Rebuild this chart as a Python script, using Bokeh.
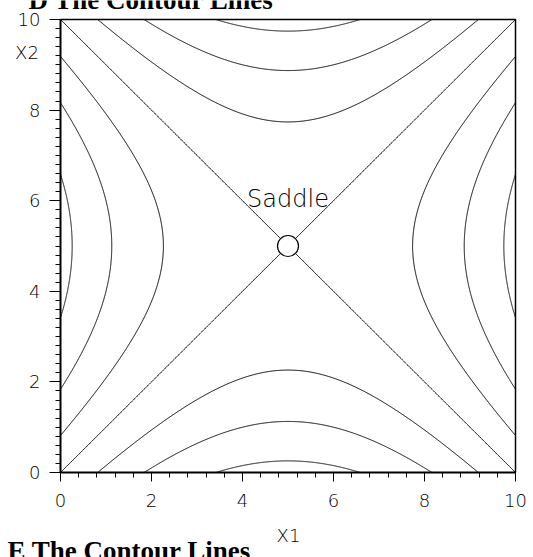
import numpy as np
from bokeh.plotting import figure
from bokeh.models import Range1d, SingleIntervalTicker, Label
from bokeh.embed import file_html
from bokeh.resources import INLINE

# ---- data ----
contour_levels = [-22.5, -15.0, -7.5, 0.0, 7.5, 15.0, 22.5]   # f = (X1-5)^2 - (X2-5)^2
saddle_x = [5.0]
saddle_y = [5.0]
x_limits = [0, 10]
y_limits = [0, 10]
tick_interval = 2

# ---- contour lines of the saddle, cut to the plotted square ----
cx, cy = saddle_x[0], saddle_y[0]
hw = (x_limits[1] - x_limits[0]) / 2.0
xs, ys = [], []
for c in contour_levels:
    half = np.sqrt(hw ** 2 - abs(c))
    t = np.linspace(-half, half, 601)
    r = np.sqrt(abs(c) + t ** 2)
    if c >= 0:
        xs += [cx - r, cx + r]
        ys += [cy + t, cy + t]
    else:
        xs += [cx + t, cx + t]
        ys += [cy - r, cy + r]

# ---- layout: the frame fills the whole canvas; axes sit at the data origin ----
W, H = 533, 557
PX_L, PX_R, PX_T, PX_B = 60, 515, 19, 472          # pixel place of the plotted square
sx = (PX_R - PX_L) / (x_limits[1] - x_limits[0])
sy = (PX_B - PX_T) / (y_limits[1] - y_limits[0])
xr = Range1d(x_limits[0] - PX_L / sx, x_limits[1] + (W - PX_R) / sx)
yr = Range1d(y_limits[0] - (H - PX_B) / sy, y_limits[1] + PX_T / sy)

def px(x):
    return x_limits[0] + (x - PX_L) / sx

def py(y):
    return y_limits[0] + (PX_B - y) / sy

TICK_FONT = "DejaVu Sans Light"

p = figure(width=W, height=H, output_backend="svg", toolbar_location=None,
           x_range=xr, y_range=yr, min_border=0)
p.background_fill_color = "white"
p.border_fill_color = "white"
p.outline_line_color = None
p.grid.visible = False

# top and right edges of the box
p.line([x_limits[0], x_limits[1], x_limits[1]], [y_limits[1], y_limits[1], y_limits[0]],
       line_color="black", line_width=1.5)

p.multi_line(xs, ys, line_color="black", line_width=1)
p.scatter(saddle_x, saddle_y, size=21, marker="circle", fill_color="white",
          line_color="black", line_width=1.2)

p.xaxis.ticker = SingleIntervalTicker(interval=tick_interval, num_minor_ticks=5)
p.yaxis.ticker = SingleIntervalTicker(interval=tick_interval, num_minor_ticks=10)
for ax, major in ((p.xaxis, 9), (p.yaxis, 11)):
    ax.fixed_location = 0
    ax.bounds = (0, 10)
    ax.axis_line_width = 2
    ax.axis_line_color = "black"
    ax.major_tick_in = 0
    ax.major_tick_out = major
    ax.minor_tick_in = 0
    ax.minor_tick_out = 5
    ax.major_tick_line_color = "black"
    ax.minor_tick_line_color = "black"
    ax.major_label_text_font = TICK_FONT
    ax.major_label_text_font_size = "18px"
    ax.major_label_text_color = "black"
p.xaxis.major_label_standoff = 12
p.yaxis.major_label_standoff = 9

def label(x, y, text, **kw):
    p.add_layout(Label(x=x, y=y, text=text, text_color="black", text_baseline="middle", **kw))

label(5.0, py(198), "Saddle", text_align="center", text_font=TICK_FONT, text_font_size="24px")
label(px(26.5), py(51.5), "X2", text_align="center", text_font=TICK_FONT, text_font_size="18px")
label(px(288), py(535), "X1", text_align="center", text_font=TICK_FONT, text_font_size="18px")
label(px(28), py(-1), "D The Contour Lines", text_align="left",
      text_font="Liberation Serif", text_font_style="bold", text_font_size="27px")
label(px(7), py(550.5), "E The Contour Lines", text_align="left",
      text_font="Liberation Serif", text_font_style="bold", text_font_size="27px")

open("out.html", "w").write(file_html(p, INLINE))
